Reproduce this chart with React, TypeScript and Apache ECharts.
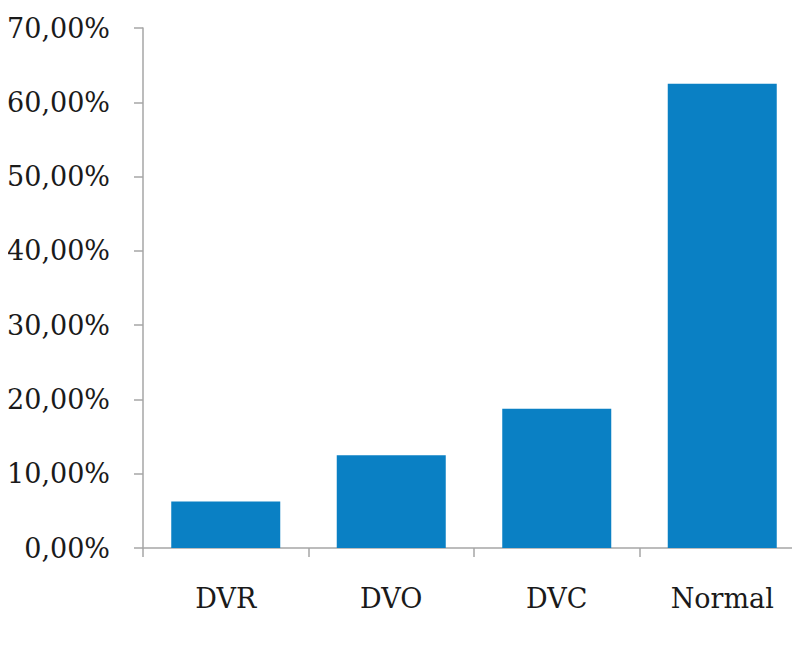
import React, { useEffect, useRef } from "react";
import * as echarts from "echarts";

const categories = ["DVR", "DVO", "DVC", "Normal"];
const values = [6.25, 12.5, 18.75, 62.5];
const yMin = 0;
const yMax = 70;
const yInterval = 10;

export default function App() {
  const ref = useRef<HTMLDivElement>(null);
  useEffect(() => {
    if (!ref.current) return;
    const chart = echarts.init(ref.current, undefined, { renderer: "svg" });
    const font = "DejaVu Serif";
    chart.setOption({
      animation: false,
      grid: { left: 143, right: 0, top: 28, bottom: 97, containLabel: false },
      xAxis: {
        type: "category",
        data: categories,
        axisLine: { show: true, lineStyle: { color: "#A6A6A6", width: 1.5 } },
        axisTick: { show: true, length: 9, lineStyle: { color: "#A6A6A6", width: 1.5 } },
        axisLabel: { color: "#1a1a1a", fontFamily: font, fontSize: 27, margin: 37 },
        splitLine: { show: false },
      },
      yAxis: {
        type: "value",
        min: yMin,
        max: yMax,
        interval: yInterval,
        axisLine: { show: true, lineStyle: { color: "#A6A6A6", width: 1.5 } },
        axisTick: { show: true, length: 9, lineStyle: { color: "#A6A6A6", width: 1.5 } },
        splitLine: { show: false },
        axisLabel: {
          color: "#1a1a1a",
          fontFamily: font,
          fontSize: 27,
          margin: 33,
          formatter: (v: number) => v.toFixed(2).replace(".", ",") + "%",
        },
      },
      series: [
        {
          type: "bar",
          data: values,
          barWidth: 109,
          itemStyle: { color: "#0A80C4" },
        },
      ],
    });
    return () => chart.dispose();
  }, []);
  return (
    <div style={{ width: 800, height: 645, margin: -8, overflow: "hidden" }}>
      <div ref={ref} style={{ width: 805, height: 645 }} />
    </div>
  );
}
